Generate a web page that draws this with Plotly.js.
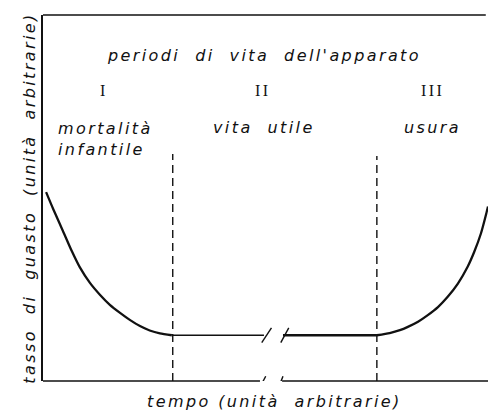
<!DOCTYPE html>
<html>
<head>
<meta charset="utf-8">
<script src="https://cdn.plot.ly/plotly-3.0.1.min.js"></script>
<style>
  html, body { margin: 0; padding: 0; background: #fff; }
  #chart { width: 488px; height: 413px; }
  /* the original lettering is widely spaced */
  .annotation-text { letter-spacing: 2.4px; }
</style>
</head>
<body>
<div id="chart"></div>
<script>
// failure rate (arbitrary units)
const earlyX = [0.07, 0.23, 0.45, 0.65, 0.83, 1.06, 1.29, 1.51, 1.74, 1.96, 2.19, 2.41, 2.64, 2.91];
const earlyY = [5.16, 4.70, 4.10, 3.55, 3.11, 2.68, 2.35, 2.08, 1.86, 1.67, 1.50, 1.38, 1.30, 1.25];
const usefulX1 = [2.91, 4.99];
const usefulX2 = [5.42, 7.54];
const usefulY = [1.25, 1.25];
const wearX = [7.54, 7.83, 8.06, 8.24, 8.47, 8.69, 8.92, 9.14, 9.37, 9.59, 9.74, 9.89, 10.01, 10.05];
const wearY = [1.25, 1.31, 1.39, 1.48, 1.62, 1.80, 2.02, 2.30, 2.66, 3.12, 3.53, 4.03, 4.57, 4.77];

// period boundaries
const boundaries = [2.93, 7.54];
const periodNames = ['I', 'II', 'III'];
const periodX = [1.38, 4.96, 8.8];

const FONT = 'DejaVu Sans, sans-serif';
const black = '#111';

const traces = [
  { x: earlyX, y: earlyY, mode: 'lines', line: { color: black, width: 2.3, shape: 'spline', smoothing: 0.6 } },
  { x: usefulX1, y: usefulY, mode: 'lines', line: { color: black, width: 1.6 } },
  { x: usefulX2, y: usefulY, mode: 'lines', line: { color: black, width: 2.6 } },
  { x: wearX, y: wearY, mode: 'lines', line: { color: black, width: 2.3, shape: 'spline', smoothing: 0.6 } }
];

const shapes = [];
// dashed period boundaries
boundaries.forEach(function(b, i) {
  shapes.push({ type: 'line', xref: 'x', yref: 'y', x0: b, x1: b, y0: 0, y1: i === 0 ? 6.2 : 6.15,
    line: { color: black, width: 1.4, dash: '8px,5px' } });
});
// top frame line
shapes.push({ type: 'line', xref: 'paper', yref: 'paper', x0: 0, x1: 0.995, y0: 1, y1: 1,
  line: { color: black, width: 1.4 } });
// broken time axis
shapes.push({ type: 'line', xref: 'x', yref: 'paper', x0: 0, x1: 4.9, y0: 0, y1: 0, line: { color: black, width: 1.6 } });
shapes.push({ type: 'line', xref: 'x', yref: 'paper', x0: 5.4, x1: 10.1, y0: 0, y1: 0, line: { color: black, width: 1.6 } });
// break slashes
[[4.94, 5.16], [5.37, 5.55]].forEach(function(s) {
  shapes.push({ type: 'line', xref: 'x', yref: 'y', x0: s[0], x1: s[1], y0: 1.05, y1: 1.45, line: { color: black, width: 1.4 } });
});
[[4.87, 5.03], [5.3, 5.42]].forEach(function(s) {
  shapes.push({ type: 'line', xref: 'x', yref: 'y', x0: s[0], x1: s[1], y0: -0.24, y1: 0.13, line: { color: black, width: 1.4 } });
});

const annotations = [
  { text: "<i>periodi  di  vita  dell'apparato</i>", x: 5.0, y: 8.9 },
  { text: "<i>mortalità<br>infantile</i>", x: 0.3, y: 6.6, xanchor: 'left', align: 'left' },
  { text: "<i>vita  utile</i>", x: 5.0, y: 6.94 },
  { text: "<i>usura</i>", x: 8.8, y: 6.94 }
].map(function(a) {
  return Object.assign({ xref: 'x', yref: 'y', showarrow: false, font: { family: FONT, size: 16, color: black } }, a);
});
periodNames.forEach(function(n, i) {
  annotations.push({ text: n, x: periodX[i], y: 7.94, xref: 'x', yref: 'y', showarrow: false,
    font: { family: 'Liberation Serif, serif', size: 16, color: black } });
});
annotations.push({ text: '<i>tasso  di  guasto  (unità  arbitrarie)</i>', xref: 'paper', yref: 'paper',
  x: -0.058, y: 0.5, textangle: -90, showarrow: false, font: { family: FONT, size: 16, color: black } });
annotations.push({ text: '<i>tempo (unità  arbitrarie)</i>', xref: 'paper', yref: 'paper',
  x: 0.52, y: -0.055, yanchor: 'middle', showarrow: false, font: { family: FONT, size: 16, color: black } });

const layout = {
  width: 488, height: 413,
  margin: { l: 43, r: 0, t: 15, b: 32 },
  paper_bgcolor: '#fff', plot_bgcolor: '#fff',
  showlegend: false,
  xaxis: { range: [0, 10.05], showgrid: false, zeroline: false, showline: false, showticklabels: false, ticks: '' },
  yaxis: { range: [0, 10], showgrid: false, zeroline: false, showline: true, linecolor: black, linewidth: 1.6,
    showticklabels: false, ticks: '' },
  shapes: shapes,
  annotations: annotations
};

Plotly.newPlot('chart', traces, layout, { displayModeBar: false, staticPlot: true });
</script>
</body>
</html>
